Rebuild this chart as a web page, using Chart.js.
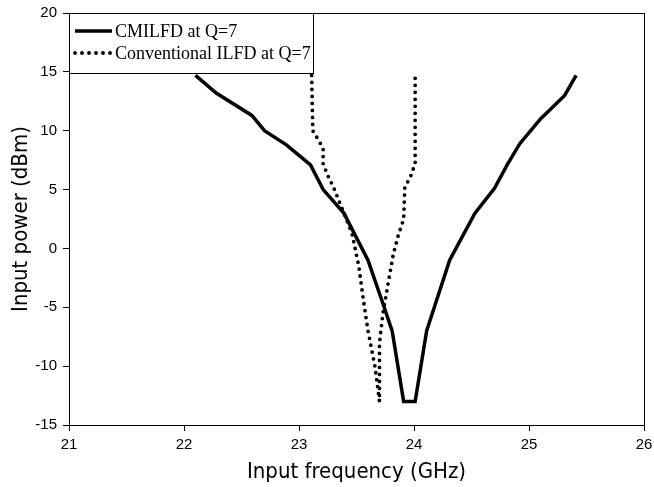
<!DOCTYPE html>
<html><head><meta charset="utf-8">
<script src="https://cdn.jsdelivr.net/npm/chart.js@4"></script>
<style>html,body{margin:0;padding:0;background:#fff}#wrap{width:654px;height:487px}</style>
</head><body><div id="wrap"><canvas id="c" width="654" height="487"></canvas></div>
<script>
const seriesNames = ['CMILFD at Q=7', 'Conventional ILFD at Q=7'];
const cmFreq  = [22.1, 22.28, 22.59, 22.7, 22.89, 23.1, 23.21, 23.39, 23.6, 23.72, 23.81, 23.91, 24.01, 24.11, 24.31, 24.53, 24.7, 24.81, 24.92, 25.1, 25.31, 25.41];
const cmPower = [14.7, 13.2, 11.3, 10.0, 8.8, 7.1, 5.0, 3.0, -1.0, -4.4, -7.0, -13.0, -13.0, -7.0, -1.0, 3.0, 5.1, 7.1, 8.9, 11.0, 13.0, 14.7];
const convFreq  = [23.11, 23.12, 23.17, 23.21, 23.21, 23.25, 23.30, 23.37, 23.46, 23.52, 23.56, 23.60, 23.66, 23.70, 23.70, 23.73, 23.78, 23.82, 23.86, 23.91, 23.92, 23.97, 24.01, 24.01];
const convPower = [14.7, 10.0, 9.2, 8.5, 7.2, 6.2, 5.2, 3.5, 1.3, -1.5, -4.4, -7.0, -10.0, -13.0, -8.0, -5.5, -2.7, -0.5, 1.0, 2.5, 5.2, 6.1, 7.2, 14.7];
const xTicks = [21, 22, 23, 24, 25, 26];
const yTicks = [-15, -10, -5, 0, 5, 10, 15, 20];
const xTitle = 'Input frequency (GHz)';
const yTitle = 'Input power (dBm)';

const toPts = (xs, ys) => xs.map((x, i) => ({x: x, y: ys[i]}));

const frameAndLegend = {
  id: 'frameAndLegend',
  afterDatasetsDraw(chart) {
    const {ctx, chartArea: a} = chart;
    ctx.save();
    ctx.strokeStyle = '#000';
    ctx.lineWidth = 1;
    const L = Math.floor(a.left) + 0.5, T = Math.floor(a.top) + 0.5;
    const R = Math.floor(a.right) + 0.5, B = Math.floor(a.bottom) + 0.5;
    ctx.strokeRect(L, T, R - L, B - T);
    ctx.fillStyle = '#fff';
    ctx.fillRect(L, T, 244, 60);
    ctx.strokeRect(L, T, 244, 60);
    const rows = [31, 53];
    chart.data.datasets.forEach((ds, i) => {
      const y = rows[i];
      ctx.save();
      ctx.strokeStyle = ds.borderColor;
      ctx.lineWidth = ds.borderWidth;
      ctx.lineCap = ds.borderCapStyle || 'butt';
      ctx.setLineDash(ds.borderDash || []);
      ctx.beginPath();
      ctx.moveTo(a.left + 6, y);
      ctx.lineTo(a.left + 43, y);
      ctx.stroke();
      ctx.restore();
      ctx.fillStyle = '#000';
      ctx.font = '18px "Liberation Serif", "Times New Roman", serif';
      ctx.textBaseline = 'middle';
      ctx.textAlign = 'left';
      ctx.fillText(ds.label, a.left + 46, y + 1);
    });
    ctx.restore();
  }
};

new Chart(document.getElementById('c'), {
  type: 'scatter',
  data: {
    datasets: [
      {label: seriesNames[0], data: toPts(cmFreq, cmPower), showLine: true, borderColor: '#000', backgroundColor: '#000',
       borderWidth: 3.5, pointRadius: 0, tension: 0, borderJoinStyle: 'miter'},
      {label: seriesNames[1], data: toPts(convFreq, convPower), showLine: true, borderColor: '#000', backgroundColor: '#000',
       borderWidth: 3.8, borderDash: [0, 7], borderCapStyle: 'round', pointRadius: 0, tension: 0}
    ]
  },
  options: {
    responsive: false,
    animation: false,
    layout: {padding: {top: 13, right: 10, left: 0, bottom: 0}},
    plugins: {legend: {display: false}, tooltip: {enabled: false}},
    scales: {
      x: {
        type: 'linear', min: xTicks[0], max: xTicks[xTicks.length - 1],
        afterBuildTicks: s => { s.ticks = xTicks.map(v => ({value: v})); },
        afterFit: s => { s.height = 62; s.paddingLeft = 0; s.paddingRight = 0; },
        grid: {drawOnChartArea: false, drawTicks: true, tickLength: 6, color: '#000'},
        border: {display: true, color: '#000', width: 1},
        ticks: {color: '#000', padding: 5, maxRotation: 0, font: {family: '"Liberation Sans", Arial, sans-serif', size: 15}},
        title: {display: true, text: xTitle, color: '#000', padding: {top: 0, bottom: 2},
                font: {family: '"DejaVu Sans Condensed", "DejaVu Sans", sans-serif', size: 22, lineHeight: 1.2}}
      },
      y: {
        type: 'linear', min: yTicks[0], max: yTicks[yTicks.length - 1],
        afterBuildTicks: s => { s.ticks = yTicks.map(v => ({value: v})); },
        afterFit: s => { s.width = 69; s.paddingTop = 0; s.paddingBottom = 0; },
        grid: {drawOnChartArea: false, drawTicks: true, tickLength: 6, color: '#000'},
        border: {display: true, color: '#000', width: 1},
        ticks: {color: '#000', padding: 6, font: {family: '"Liberation Sans", Arial, sans-serif', size: 15}},
        title: {display: true, text: yTitle, color: '#000', padding: {top: 8, bottom: 0},
                font: {family: '"DejaVu Sans Condensed", "DejaVu Sans", sans-serif', size: 22, lineHeight: 1.2}}
      }
    }
  },
  plugins: [frameAndLegend]
});
</script>
</body></html>
